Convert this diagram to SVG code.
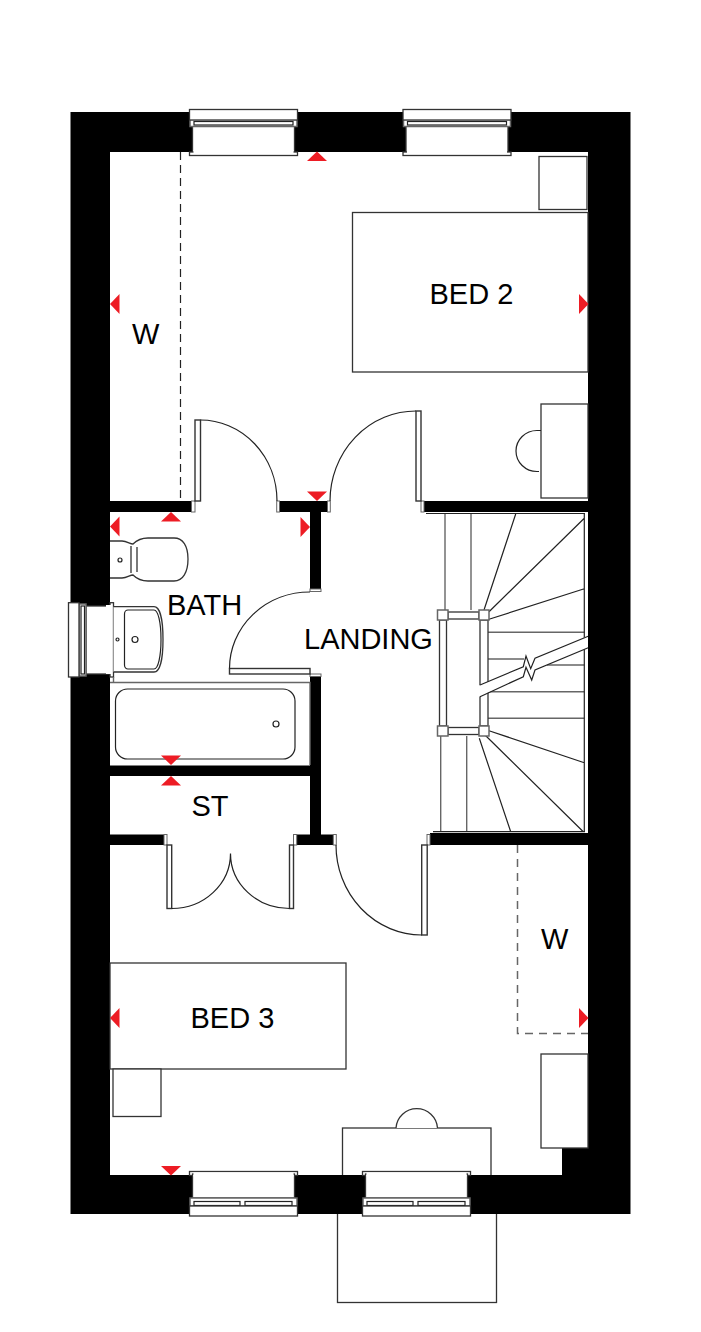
<svg xmlns="http://www.w3.org/2000/svg" xmlns:xlink="http://www.w3.org/1999/xlink" width="701" height="1332" viewBox="0 0 701 1332">
<style>
.w{fill:#000;stroke:none}
.j{fill:#fff;stroke:#666;stroke-width:1}
.l{fill:none;stroke:#222;stroke-width:1.2}
.g{fill:none;stroke:#666;stroke-width:1.4}
.f{fill:#fff;stroke:#333;stroke-width:1.3}
.fg{fill:#fff;stroke:#666;stroke-width:1.5}
.lf{fill:#fff;stroke:#333;stroke-width:1.4}
.d{fill:none;stroke:#222;stroke-width:1.2;stroke-dasharray:8 5}
.dg{fill:none;stroke:#666;stroke-width:1.5;stroke-dasharray:8 6}
.r{fill:#ED1C24;stroke:none}
text{font-family:"Liberation Sans",Arial,sans-serif;font-size:29px;fill:#000}
</style>
<defs>
<g id="winT">
<rect class="f" x="3.5" y="17" width="102" height="27"/>
<rect class="f" x="0.5" y="43" width="108" height="3.5"/>
<rect x="4.5" y="41" width="100" height="4" fill="#fff"/>
<rect class="fg" x="1" y="10.5" width="107" height="7"/>
<rect class="l" x="5" y="12.5" width="99" height="3.5"/>
<rect class="f" x="0.5" y="0.5" width="108" height="10.5"/>
</g>
<g id="winB">
<rect class="f" x="0.5" y="0.5" width="108" height="4"/>
<rect class="f" x="3.5" y="3" width="102" height="24"/>
<rect x="4.5" y="1.5" width="100" height="4" fill="#fff"/>
<rect class="fg" x="1" y="27" width="107" height="8"/>
<rect class="l" x="5" y="30.5" width="46" height="4"/>
<rect class="l" x="56" y="30.5" width="47" height="4"/>
<rect class="f" x="0.5" y="35" width="108" height="10"/>
</g>
<polygon id="up" class="r" points="0,0 10,9.5 -10,9.5"/>
<polygon id="dn" class="r" points="0,0 10,-9.5 -10,-9.5"/>
<polygon id="lf" class="r" points="0,0 9.5,-10 9.5,10"/>
<polygon id="rt" class="r" points="0,0 -9.5,-10 -9.5,10"/>
</defs>
<rect width="701" height="1332" fill="#fff"/>

<g id="furniture-under">
<rect class="f" x="342.5" y="1128" width="148.5" height="50"/>
<rect class="f" x="337.5" y="1210" width="159" height="92.5"/>
<path class="f" d="M396 1128A20.8 20.8 0 0 1 437.5 1128"/>
</g>

<g id="stairs">
<path class="g" d="M445 513.5V610M471 513.5V610M440.7 736V832M466.7 736V832M488 632.3H584.3M488 659H524M547 665H584.3M488 691.7H584.3M488 718.3H584.3"/>
<path class="l" d="M426 513.5H585M584.3 513.5V832M433 831.7H585M484 610L515.7 514M489 611.7L584.3 518.3M489 619.3L584.3 588.7M489 730.7L584.3 762.7M485 735L583.3 831.7M479.3 738.3L510.7 831.7"/>
<rect class="f" x="448" y="612" width="31" height="7"/>
<rect class="f" x="448" y="727.5" width="31" height="7"/>
<rect class="f" x="439.5" y="620" width="7" height="106"/>
<path d="M480 620H488V726H480Z" class="f"/>
<path fill="#fff" stroke="none" d="M479 685.5L523.3 666.700L526 656L530.7 668.7L535 658.3L590 635V647L535 670L531.7 680L526 667.3L523.3 676.7L479 696.7Z"/>
<path class="l" d="M480 685L523.3 666.7L526 656L530.7 668.7L535 658.3L590 635.5M480 696.7L523.3 676.7L526 667.3L531.7 680L535 670L590 647"/>
<rect class="fg" x="437.5" y="610" width="10.5" height="10"/>
<rect class="fg" x="479" y="610" width="10" height="10"/>
<rect class="fg" x="437.5" y="726" width="10.5" height="10"/>
<rect class="fg" x="479" y="726" width="10" height="10"/>
</g>

<g id="walls">
<path class="w" fill-rule="evenodd" d="M70.5 112H630.5V1214H70.5ZM110 152V1175H562V1148H588V152Z"/>
<rect class="w" x="110" y="501" width="81.5" height="11"/>
<rect class="w" x="279.5" y="501" width="48" height="11"/>
<rect class="w" x="424" y="501" width="164" height="11"/>
<rect class="w" x="310" y="512" width="11" height="78"/>
<rect class="w" x="310" y="675" width="11" height="160"/>
<rect class="w" x="110" y="765.5" width="200" height="10.5"/>
<rect class="w" x="110" y="834.5" width="54" height="10.5"/>
<rect class="w" x="296.7" y="834.5" width="36.6" height="10.5"/>
<rect class="w" x="430" y="833" width="158" height="12"/>
<rect class="j" x="191.5" y="501" width="3.5" height="11"/>
<rect class="j" x="276.7" y="501" width="2.8" height="11"/>
<rect class="j" x="327.5" y="501" width="2.8" height="11"/>
<rect class="j" x="421" y="501" width="3" height="11"/>
<rect class="j" x="310" y="589" width="11" height="2.5"/>
<rect class="j" x="310" y="674" width="11" height="2.5"/>
<rect class="j" x="164" y="834.5" width="3" height="10.5"/>
<rect class="j" x="293.5" y="834.5" width="3.2" height="10.5"/>
<rect class="j" x="333.3" y="834.5" width="3" height="10.5"/>
<rect class="j" x="427" y="834.5" width="3" height="10.5"/>
</g>

<g id="windows">
<use xlink:href="#winT" href="#winT" x="189" y="109"/>
<use xlink:href="#winT" href="#winT" x="402.5" y="109"/>
<use xlink:href="#winB" href="#winB" x="189" y="1171"/>
<use xlink:href="#winB" href="#winB" x="362" y="1171"/>
<rect class="f" x="86" y="606" width="25" height="68"/>
<rect class="fg" x="79" y="604" width="7" height="72"/>
<rect class="l" x="81" y="606" width="3.5" height="68"/>
<rect class="f" x="68.5" y="602.7" width="10.5" height="74.3"/>
<rect class="f" x="110" y="602.7" width="3.500" height="74.3"/>
<rect x="106" y="605" width="6" height="69" fill="#fff"/>
</g>

<g id="doors">
<rect class="lf" x="195" y="420" width="5.5" height="81"/>
<path class="l" d="M200.5 420A76.5 81 0 0 1 277 501"/>
<rect class="lf" x="416" y="411" width="5" height="90"/>
<path class="l" d="M416 411A86 90 0 0 0 330 501"/>
<rect class="lf" x="229.5" y="668.5" width="80.5" height="5.5"/>
<path class="l" d="M310 592A80.5 76.5 0 0 0 229.5 668.5"/>
<rect class="lf" x="167" y="845" width="4.7" height="63.5"/>
<rect class="lf" x="289.5" y="845" width="4" height="63.5"/>
<path class="l" d="M171.7 908.5A59 55 0 0 0 230.5 853.5A59 55 0 0 0 289.5 908.5"/>
<rect class="lf" x="421.7" y="845" width="5.5" height="90"/>
<path class="l" d="M336 845A86 90 0 0 0 421.7 935"/>
</g>

<g id="furniture">
<rect class="f" x="352.5" y="212.5" width="235.5" height="159.5"/>
<rect class="f" x="539" y="156.5" width="48" height="53"/>
<rect class="f" x="541" y="404" width="47" height="94"/>
<path class="l" d="M541 430.5H537A21 20.500 0 0 0 537 471.5H539"/>
<path class="d" d="M180.5 152V501"/>
<path class="dg" d="M517.5 845V1033.5H588"/>
<rect class="f" x="110" y="963" width="236" height="106"/>
<rect class="f" x="113" y="1069" width="48" height="47.5"/>
<rect class="f" x="541" y="1054" width="47" height="94"/>
<path class="g" d="M110 682.5H310V765M113.5 677V682.5"/>
<rect class="l" x="115.5" y="689" width="179.5" height="70" rx="12"/>
<circle class="l" cx="276" cy="724" r="3"/>
<path class="f" d="M110 541H122C127 541 130 544 133 544C136 541 141 538 148 538H174C183 538 188 546 188 559C188 572 183 581 174 581H148C141 581 136 578 133 575C130 575 127 578 122 578H110"/>
<path class="l" d="M131 546C131 552 131 568 131 573M137 547V572"/>
<circle class="l" cx="120" cy="560" r="2"/>
<path class="f" d="M113.5 606.7H154C160 606.7 163 620 163 639.5C163 659 160 672 154 672H113.5"/>
<path class="l" d="M128 610H154C158 610 161 622 161 639.5C161 657 158 669 154 669H128C126 669 124.5 667 124.5 665V614C124.5 612 126 610 128 610Z"/>
<circle class="l" cx="135" cy="639.5" r="3"/>
<circle class="l" cx="117.5" cy="639.5" r="1.5"/>
</g>

<g id="markers">
<use href="#up" x="317" y="151.5"/>
<use href="#lf" x="110" y="304"/>
<use href="#rt" x="588.5" y="304"/>
<use href="#dn" x="317" y="501"/>
<use href="#up" x="171" y="512"/>
<use href="#lf" x="110" y="526.5"/>
<use href="#rt" x="310" y="527"/>
<use href="#dn" x="171" y="765"/>
<use href="#up" x="171" y="776"/>
<use href="#lf" x="110" y="1018"/>
<use href="#rt" x="588.5" y="1018"/>
<use href="#dn" x="171" y="1175.5"/>
</g>

<g id="labels">
<text x="429.5" y="304">BED 2</text>
<text x="132" y="344">W</text>
<text x="167" y="615">BATH</text>
<text x="304" y="649">LANDING</text>
<text x="191.5" y="816">ST</text>
<text x="190.5" y="1028">BED 3</text>
<text x="541" y="949">W</text>
</g>
</svg>
